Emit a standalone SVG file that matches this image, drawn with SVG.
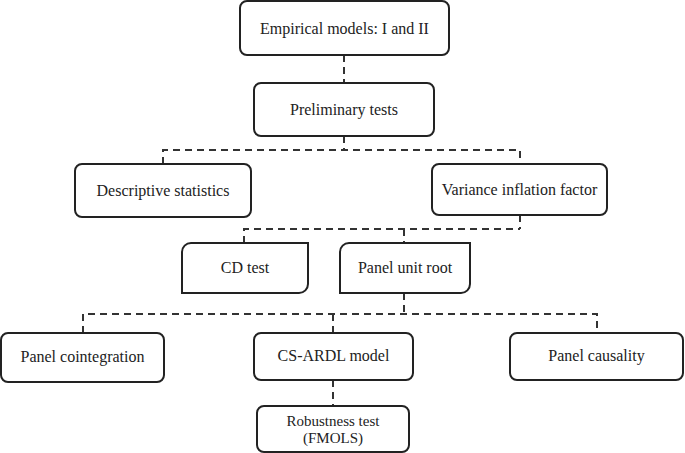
<svg xmlns="http://www.w3.org/2000/svg" width="685" height="453" viewBox="0 0 685 453">
<style>
.box{fill:#fff;stroke:#222;stroke-width:2}
.t{font-family:"Liberation Serif","Times New Roman",serif;font-size:16px;fill:#222;text-anchor:middle}
.s{font-size:15px}
.c{fill:none;stroke:#333;stroke-width:2;stroke-dasharray:7,5}
</style>
<rect width="685" height="453" fill="#fff"/>
<g id="connectors">
<path class="c" d="M344,55V83"/>
<path class="c" d="M344,136V150M163,164V150H520V164"/>
<path class="c" d="M520,215V229M244,243V229H520M404,229V243"/>
<path class="c" d="M404,293V314M83,333V314H597V333M333,314V333"/>
<path class="c" d="M333,380V406"/>
</g>
<g id="n-empirical"><rect class="box" x="240" y="1" width="209" height="54" rx="7"/><text class="t" x="344.5" y="33.5">Empirical models: I and II</text></g>
<g id="n-preliminary"><rect class="box" x="254" y="83" width="180" height="53" rx="7"/><text class="t" x="344" y="115">Preliminary tests</text></g>
<g id="n-descriptive"><rect class="box" x="75" y="164" width="176" height="53" rx="7"/><text class="t" x="163" y="196">Descriptive statistics</text></g>
<g id="n-vif"><rect class="box" x="432" y="164" width="175" height="51" rx="7"/><text class="t" x="519.5" y="195">Variance inflation factor</text></g>
<g id="n-cd"><path class="box" d="M182,293V252A9,9 0 0 1 191,243H308V284A9,9 0 0 1 299,293Z"/><text class="t" x="245" y="273">CD test</text></g>
<g id="n-unitroot"><path class="box" d="M340,293V252A9,9 0 0 1 349,243H470V284A9,9 0 0 1 461,293Z"/><text class="t" x="405" y="273">Panel unit root</text></g>
<g id="n-coint"><rect class="box" x="1" y="333" width="163" height="49" rx="7"/><text class="t" x="82.5" y="362">Panel cointegration</text></g>
<g id="n-csardl"><rect class="box" x="254" y="333" width="159" height="47" rx="7"/><text class="t" x="333.5" y="361">CS-ARDL model</text></g>
<g id="n-causality"><rect class="box" x="510" y="333" width="173" height="47" rx="7"/><text class="t" x="596.5" y="361">Panel causality</text></g>
<g id="n-robust"><rect class="box" x="257" y="406" width="152" height="46" rx="7"/><text class="t s" x="333" y="426">Robustness test</text><text class="t s" x="333" y="443">(FMOLS)</text></g>
</svg>
